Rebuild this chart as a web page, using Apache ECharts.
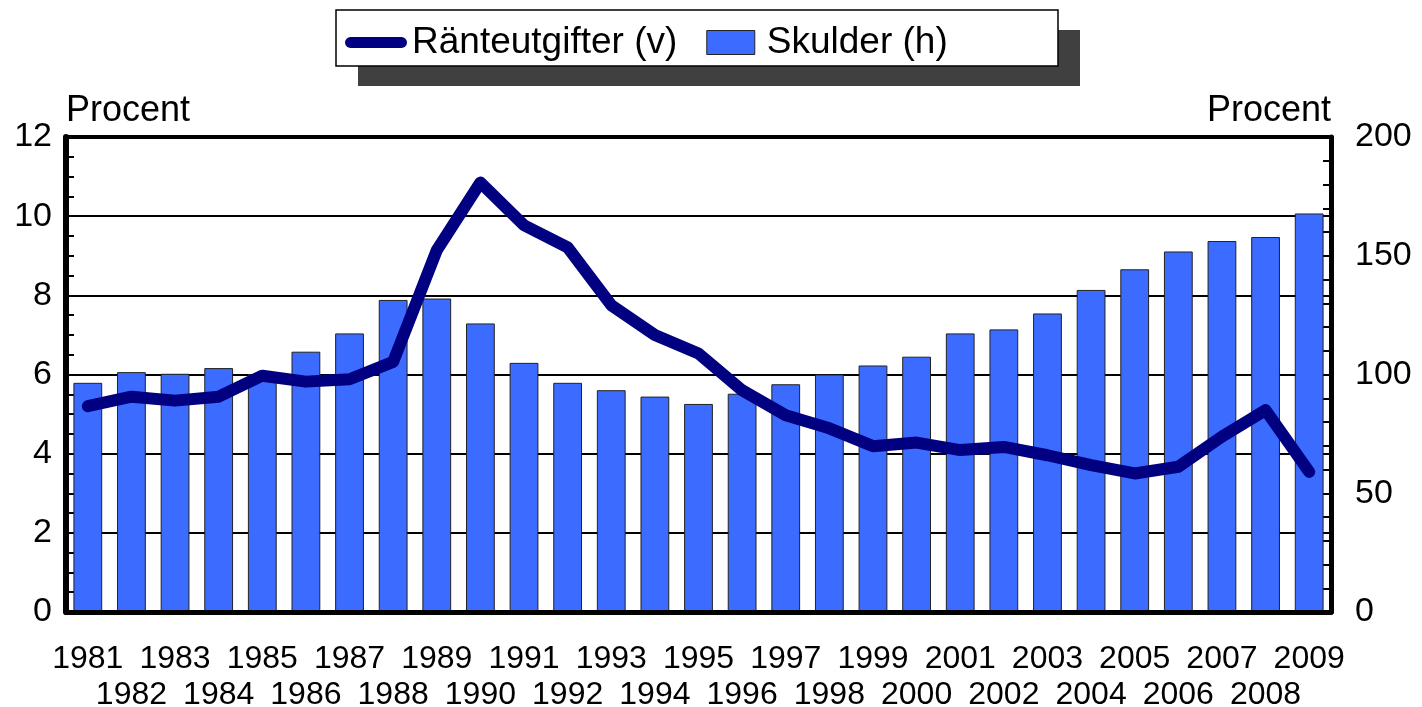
<!DOCTYPE html>
<html>
<head>
<meta charset="utf-8">
<script src="https://cdn.jsdelivr.net/npm/echarts@6/dist/echarts.min.js"></script>
<style>
html,body{margin:0;padding:0;background:#fff;}
#chart{width:1422px;height:707px;}
</style>
</head>
<body>
<div id="chart"></div>
<script>
const years = ['1981','1982','1983','1984','1985','1986','1987','1988','1989','1990',
  '1991','1992','1993','1994','1995','1996','1997','1998','1999','2000',
  '2001','2002','2003','2004','2005','2006','2007','2008','2009'];
// Ränteutgifter (v) – left axis, percent
const ranteutgifter = [5.2, 5.44, 5.34, 5.44, 5.97, 5.82, 5.88, 6.32, 9.14, 10.85,
  9.77, 9.21, 7.75, 7.0, 6.53, 5.6, 4.97, 4.64, 4.19, 4.28,
  4.09, 4.17, 3.96, 3.71, 3.5, 3.67, 4.43, 5.1, 3.54];
// Skulder (h) – right axis, percent
const skulder = [96.5, 101, 100.3, 102.7, 100.2, 109.6, 117.3, 131.4, 132, 121.5,
  104.9, 96.5, 93.4, 90.7, 87.6, 91.9, 95.9, 100, 103.8, 107.5,
  117.3, 119, 125.7, 135.6, 144.3, 151.8, 156.2, 157.9, 167.8];
const leftTicks = {min: 0, max: 12, interval: 2};
const rightTicks = {min: 0, max: 200, interval: 50};

const FONT = "'Liberation Sans', Arial, sans-serif";
const NAVY = '#000080';
const BLUE = '#3b6bff';

const chart = echarts.init(document.getElementById('chart'), null, {renderer: 'canvas'});
chart.setOption({
  animation: false,
  backgroundColor: '#fff',
  textStyle: {fontFamily: FONT, color: '#000'},
  graphic: [
    {type: 'rect', z: 0, silent: true, shape: {x: 358, y: 30, width: 722, height: 56},
      style: {fill: '#404040'}},
    {type: 'rect', z: 1, silent: true, shape: {x: 336, y: 10, width: 722, height: 56},
      style: {fill: '#fff', stroke: '#000', lineWidth: 1.5}}
  ],
  legend: {
    left: 336, top: 14, z: 10,
    padding: [10, 5, 10, 9],
    itemWidth: 62, itemHeight: 24, itemGap: 29,
    backgroundColor: 'transparent',
    textStyle: {fontFamily: FONT, fontSize: 37, color: '#000'},
    data: [
      {name: 'Ränteutgifter (v)', icon: 'path://M5,0 L52,0 A5,5 0 0 1 52,10 L5,10 A5,5 0 0 1 5,0 Z',
        itemStyle: {color: NAVY, borderWidth: 0}},
      {name: 'Skulder (h)', icon: 'path://M0,0 L48,0 L48,24 L0,24 Z',
        itemStyle: {color: BLUE, borderColor: '#222', borderWidth: 1}}
    ]
  },
  grid: {
    left: 66, right: 91, top: 137, bottom: 95,
    outerBoundsMode: 'none', containLabel: false,
    show: true, borderColor: '#000', borderWidth: 4, backgroundColor: 'transparent'
  },
  xAxis: {
    type: 'category',
    data: years,
    z: 5,
    axisLine: {lineStyle: {color: '#000', width: 5}},
    axisTick: {show: false},
    axisLabel: {
      interval: 0, fontSize: 32, lineHeight: 36, margin: 29, color: '#000', fontFamily: FONT,
      formatter: function (v, i) { return i % 2 === 0 ? v : '\n' + v; }
    },
    splitLine: {show: false}
  },
  yAxis: [
    {
      type: 'value', position: 'left',
      min: leftTicks.min, max: leftTicks.max, interval: leftTicks.interval,
      name: 'Procent', nameLocation: 'end', nameGap: 26,
      nameTextStyle: {fontSize: 36, align: 'left', verticalAlign: 'middle', color: '#000', fontFamily: FONT},
      axisLine: {show: true, lineStyle: {color: '#000', width: 6}},
      axisTick: {show: true, inside: true, length: 8, lineStyle: {color: '#000', width: 2}},
      minorTick: {show: true, splitNumber: 4, length: 8, lineStyle: {color: '#000', width: 2}},
      axisLabel: {fontSize: 34, margin: 14, color: '#000', fontFamily: FONT},
      splitLine: {show: true, lineStyle: {color: '#000', width: 2}}
    },
    {
      type: 'value', position: 'right',
      min: rightTicks.min, max: rightTicks.max, interval: rightTicks.interval,
      name: 'Procent', nameLocation: 'end', nameGap: 26,
      nameTextStyle: {fontSize: 36, align: 'right', verticalAlign: 'middle', color: '#000', fontFamily: FONT},
      axisLine: {show: true, lineStyle: {color: '#000', width: 5}},
      axisTick: {show: true, inside: true, length: 8, lineStyle: {color: '#000', width: 2}},
      minorTick: {show: true, splitNumber: 5, length: 8, lineStyle: {color: '#000', width: 2}},
      axisLabel: {fontSize: 34, margin: 24, color: '#000', fontFamily: FONT},
      splitLine: {show: false}
    }
  ],
  series: [
    {
      name: 'Skulder (h)', type: 'bar', yAxisIndex: 1,
      data: skulder, barWidth: '66%',
      itemStyle: {color: BLUE, borderColor: '#222', borderWidth: 1}
    },
    {
      name: 'Ränteutgifter (v)', type: 'line', yAxisIndex: 0,
      data: ranteutgifter, symbol: 'none', smooth: false,
      itemStyle: {color: NAVY},
      lineStyle: {color: NAVY, width: 12, cap: 'round', join: 'round'},
      z: 4
    }
  ]
});
</script>
</body>
</html>
